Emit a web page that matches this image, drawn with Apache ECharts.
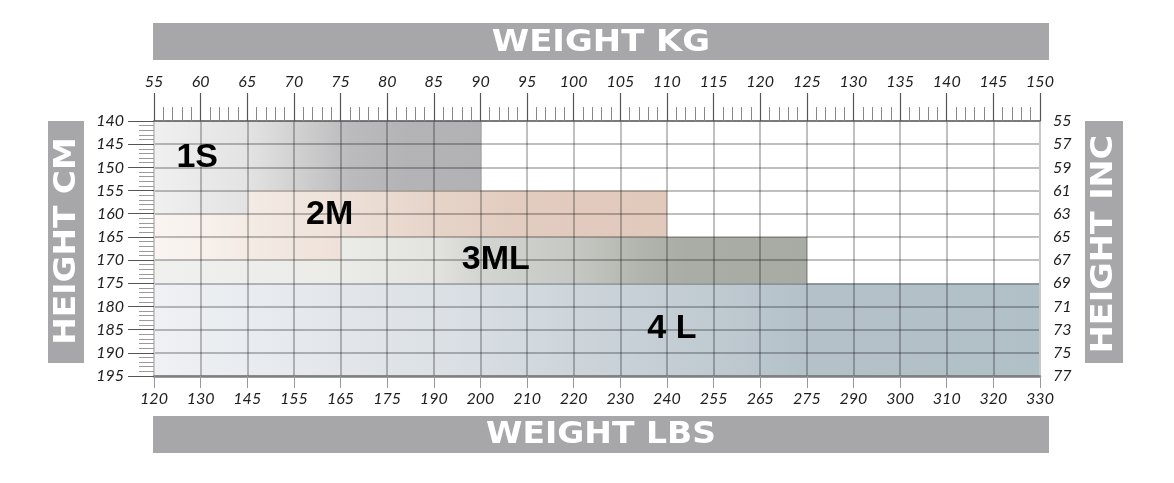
<!DOCTYPE html>
<html>
<head>
<meta charset="utf-8">
<script src="https://cdn.jsdelivr.net/npm/echarts@6/dist/echarts.min.js"></script>
<style>
html,body{margin:0;padding:0;background:#fff;}
#chart{width:1174px;height:483px;}
</style>
</head>
<body>
<div id="chart"></div>
<script>
// ---- data ----
const kgLabels = ['55','60','65','70','75','80','85','90','95','100','105','110','115','120','125','130','135','140','145','150'];
const lbsLabels = ['120','130','145','155','165','175','190','200','210','220','230','240','255','265','275','290','300','310','320','330'];
const cmLabels = ['140','145','150','155','160','165','170','175','180','185','190','195'];
const inchLabels = ['55','57','59','61','63','65','67','69','71','73','75','77'];

const sizeNames = ['1S', '2M', '3ML', '4 L'];
// rectangles: [kgFrom, kgTo, cmFrom, cmTo]
const rects1S  = [[55, 90, 140, 155], [55, 65, 155, 160]];
const rects2M  = [[65, 110, 155, 165], [55, 65, 160, 165], [55, 75, 165, 170]];
const rects3ML = [[75, 125, 165, 175], [55, 75, 170, 175]];
const rects4L  = [[55, 150, 175, 195]];
// label anchors [kg, cm]
const sizeLabelKg = [57.4, 71.3, 88.0, 107.9];
const sizeLabelCm = [147.9, 160.3, 170.0, 184.8];

// ---- styles ----
const KG_MIN = 55, KG_MAX = 150;
const gradients = [
  [[55,'#f0f0f1'],[65,'#e3e3e4'],[70,'#d2d2d3'],[76,'#bbbbbd'],[82,'#b4b4b6'],[90,'#b2b2b4']],
  [[55,'#faf5f2'],[65,'#f4ebe5'],[75,'#eee1d9'],[85,'#e6d4c9'],[95,'#e2cbbf'],[110,'#e1c9bc']],
  [[55,'#f0f0ef'],[75,'#ebebe8'],[85,'#e3e3e0'],[90,'#d3d5d0'],[100,'#c6c9c3'],[108,'#b0b3ab'],[112,'#aaada5'],[125,'#a8aba3']],
  [[55,'#eff1f4'],[85,'#dce1e6'],[100,'#cdd5db'],[115,'#c0cad1'],[125,'#b4c1c9'],[150,'#b1bfc7']]
];
const allRects = [rects1S, rects2M, rects3ML, rects4L];

const chart = echarts.init(document.getElementById('chart'));

function rectRenderer(idx) {
  return function (params, api) {
    const p0 = api.coord([api.value(0), api.value(2)]);
    const p1 = api.coord([api.value(1), api.value(3)]);
    const g0 = api.coord([KG_MIN, 140]);
    const g1 = api.coord([KG_MAX, 140]);
    const stops = gradients[idx].map(s => ({offset: (s[0] - KG_MIN) / (KG_MAX - KG_MIN), color: s[1]}));
    return {
      type: 'rect',
      shape: {x: p0[0], y: p0[1], width: p1[0] - p0[0], height: p1[1] - p0[1]},
      style: {fill: new echarts.graphic.LinearGradient(g0[0], 0, g1[0], 0, stops, true)}
    };
  };
}

const rectSeries = allRects.map((r, i) => ({
  type: 'custom',
  name: sizeNames[i],
  xAxisIndex: 0, yAxisIndex: 0,
  data: r,
  encode: {x: [0, 1], y: [2, 3]},
  renderItem: rectRenderer(i),
  silent: true,
  z: 1
}));

const labelSeries = {
  type: 'custom',
  xAxisIndex: 0, yAxisIndex: 0,
  data: sizeNames.map((n, i) => [sizeLabelKg[i], sizeLabelCm[i], n]),
  renderItem: function (params, api) {
    const p = api.coord([api.value(0), api.value(1)]);
    return {
      type: 'text', x: p[0], y: p[1],
      style: {text: sizeNames[params.dataIndex], font: 'bold 34px "Liberation Sans", Arial, sans-serif',
              fill: '#000', textAlign: 'left', textVerticalAlign: 'middle', verticalAlign: 'middle'}
    };
  },
  silent: true,
  z: 20
};

const numFont = {fontFamily: 'Lato', fontStyle: 'italic', fontSize: 16, color: '#1e1e1e'};
const barColor = '#a7a7a9';
const titleFont = 'bold 30px "DejaVu Sans", sans-serif';

chart.setOption({
  animation: false,
  grid: {left: 154, right: 134, top: 121, bottom: 107},
  xAxis: [
    {
      type: 'value', position: 'top', min: KG_MIN, max: KG_MAX, interval: 5, z: 5,
      axisLine: {show: true, onZero: false, lineStyle: {color: '#666', width: 1.5}},
      axisTick: {show: true, length: 28, lineStyle: {color: '#555', width: 1.2}},
      minorTick: {show: true, splitNumber: 5, length: 14, lineStyle: {color: '#888', width: 1}},
      axisLabel: Object.assign({margin: 31, formatter: v => kgLabels[Math.round((v - KG_MIN) / 5)]}, numFont),
      splitLine: {show: true, lineStyle: {color: 'rgba(0,0,0,0.33)', width: 1.5}}
    },
    {
      type: 'value', position: 'bottom', min: KG_MIN, max: KG_MAX, interval: 5, z: 5,
      axisLine: {show: true, onZero: false, lineStyle: {color: '#7f7f7f', width: 2.5}},
      axisTick: {show: true, length: 12, lineStyle: {color: '#999', width: 1}},
      axisLabel: Object.assign({margin: 15, formatter: v => lbsLabels[Math.round((v - KG_MIN) / 5)]}, numFont),
      splitLine: {show: false}
    }
  ],
  yAxis: [
    {
      type: 'value', position: 'left', min: 140, max: 195, interval: 5, inverse: true, z: 5,
      axisLine: {show: true, onZero: false, lineStyle: {color: '#c8c8c8', width: 2}},
      axisTick: {show: true, length: 26, lineStyle: {color: '#555', width: 1}},
      minorTick: {show: true, splitNumber: 5, length: 15, lineStyle: {color: '#9a9a9a', width: 1}},
      axisLabel: Object.assign({margin: 30, formatter: v => cmLabels[Math.round((v - 140) / 5)]}, numFont),
      splitLine: {show: true, lineStyle: {color: 'rgba(0,0,0,0.25)', width: 2}}
    },
    {
      type: 'value', position: 'right', min: 55, max: 77, interval: 2, inverse: true, z: 5,
      axisLine: {show: true, onZero: false, lineStyle: {color: '#c8c8c8', width: 2}},
      axisTick: {show: false},
      axisLabel: Object.assign({margin: 13, formatter: v => inchLabels[Math.round((v - 55) / 2)]}, numFont),
      splitLine: {show: false}
    }
  ],
  series: rectSeries.concat([labelSeries]),
  graphic: [
    {type: 'rect', left: 153, top: 23, shape: {width: 896, height: 37}, style: {fill: barColor}, silent: true},
    {type: 'text', x: 601, y: 43, scaleX: 1.13, style: {text: 'WEIGHT KG', font: titleFont, fill: '#fff', textAlign: 'center', textVerticalAlign: 'middle', verticalAlign: 'middle'}, silent: true},
    {type: 'rect', left: 153, top: 416, shape: {width: 896, height: 37}, style: {fill: barColor}, silent: true},
    {type: 'text', x: 601, y: 435, scaleX: 1.1, style: {text: 'WEIGHT LBS', font: titleFont, fill: '#fff', textAlign: 'center', textVerticalAlign: 'middle', verticalAlign: 'middle'}, silent: true},
    {type: 'rect', left: 48, top: 121, shape: {width: 36, height: 242}, style: {fill: barColor}, silent: true},
    {type: 'text', x: 67, y: 241, rotation: Math.PI / 2, scaleX: 1.06, style: {text: 'HEIGHT CM', font: 'bold 31px "DejaVu Sans", sans-serif', fill: '#fff', textAlign: 'center', textVerticalAlign: 'middle', verticalAlign: 'middle'}, silent: true},
    {type: 'rect', left: 1085, top: 121, shape: {width: 38, height: 242}, style: {fill: barColor}, silent: true},
    {type: 'text', x: 1104, y: 244, rotation: Math.PI / 2, scaleX: 1.08, style: {text: 'HEIGHT INC', font: 'bold 31px "DejaVu Sans", sans-serif', fill: '#fff', textAlign: 'center', textVerticalAlign: 'middle', verticalAlign: 'middle'}, silent: true}
  ]
});
</script>
</body>
</html>
